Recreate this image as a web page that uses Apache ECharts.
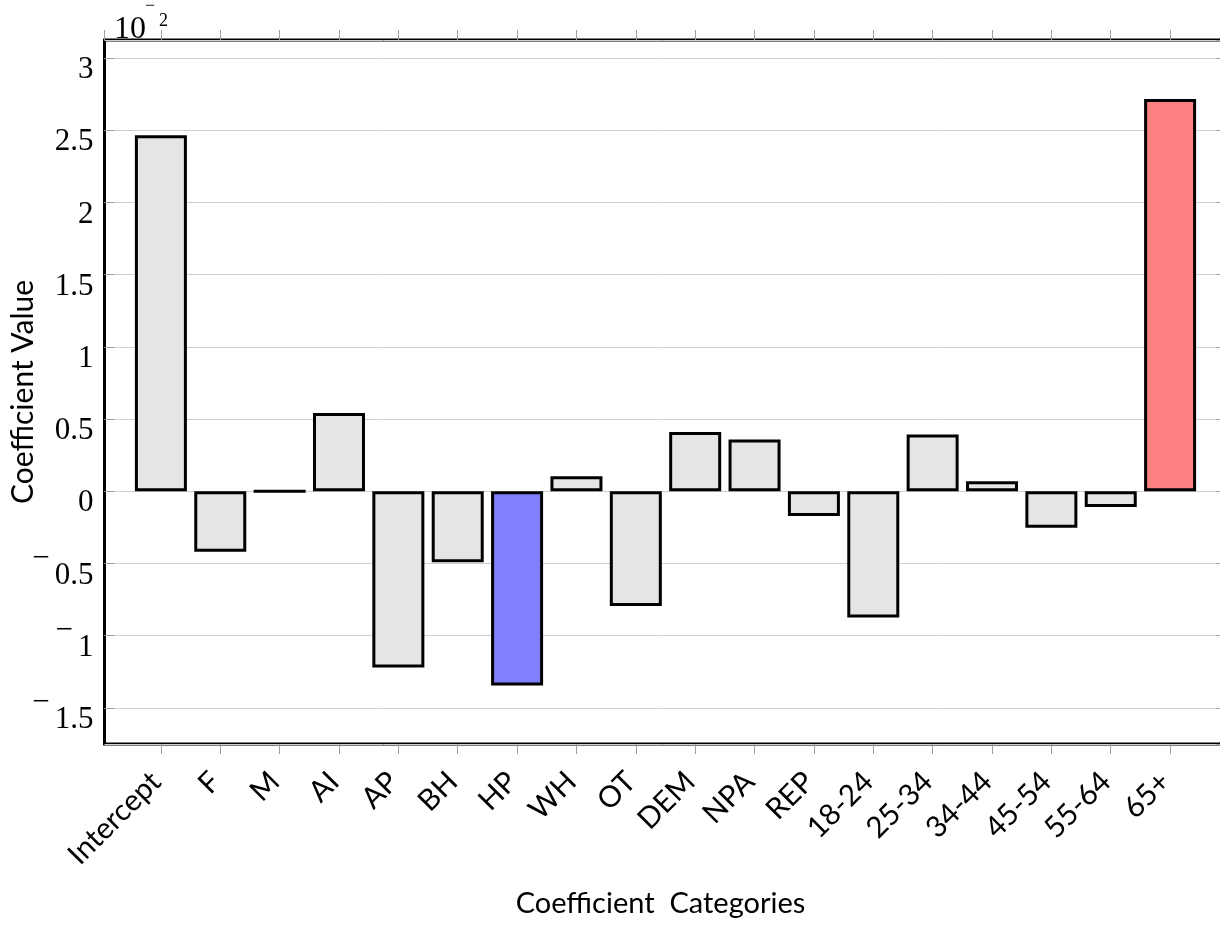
<!DOCTYPE html>
<html>
<head>
<meta charset="utf-8">
<title>Coefficient Values</title>
<script src="https://cdn.jsdelivr.net/npm/echarts@6/dist/echarts.min.js"></script>
<style>
  html, body { margin: 0; padding: 0; background: #fff; }
  #chart { width: 1220px; height: 925px; }
</style>
</head>
<body>
<div id="chart"></div>
<script>
// Regression coefficients (scaled by 10^-2)
const categories = ['Intercept', 'F', 'M', 'AI', 'AP', 'BH', 'HP', 'WH', 'OT', 'DEM', 'NPA', 'REP',
  '18-24', '25-34', '34-44', '45-54', '55-64', '65+'];
const values = [2.466, -0.419, 0, 0.542, -1.221, -0.491, -1.345, 0.104, -0.795, 0.411, 0.358, -0.172,
  -0.874, 0.393, 0.07, -0.253, -0.108, 2.716];
const yTicks = [-1.5, -1, -0.5, 0, 0.5, 1, 1.5, 2, 2.5, 3];
const lowestCategory = 'HP';
const highestCategory = '65+';

const SERIF = '"Liberation Serif", "DejaVu Serif", serif';
const SANS = 'Lato, "Open Sans", sans-serif';

function barColor(name) {
  if (name === lowestCategory) return '#8080ff';
  if (name === highestCategory) return '#ff8080';
  return '#e5e5e5';
}

const barData = categories.map((name, i) => ({
  value: [i, values[i]],
  itemStyle: { color: barColor(name) }
}));

// Tick labels: number sits a little below its grid line, minus sign raised to its left
function yLabel(v) {
  const r = Math.round(v * 100) / 100;
  if (!yTicks.some(t => Math.abs(t - r) < 1e-6)) return '';
  const txt = String(Math.abs(r));
  return r < 0 ? '{m|\u2212}{n|' + txt + '}' : '{n|' + txt + '}';
}

function xLabel(v) {
  return Number.isInteger(v) && categories[v] !== undefined ? categories[v] : '';
}

const tickStyle = { color: '#a0a0a0', width: 1 };
const expStyle = (size) => ({ fontFamily: SERIF, fontSize: size, fontWeight: 'normal', lineHeight: size, color: '#000' });

const chart = echarts.init(document.getElementById('chart'), null, { renderer: 'canvas' });

chart.setOption({
  animation: false,
  backgroundColor: '#fff',
  // axis multiplier 10^-2
  title: [
    { text: '10', left: 114, top: 13, padding: 0, textStyle: Object.assign(expStyle(32), { lineHeight: 34 }) },
    { text: '\u2212', left: 145, top: -3, padding: 0, textStyle: expStyle(18) },
    { text: '2', left: 159, top: 12, padding: 0, textStyle: expStyle(18) }
  ],
  grid: {
    left: 104.5,
    top: 40,
    right: -6.5,
    bottom: 181,
    outerBoundsMode: 'none',
    containLabel: false,
    show: true,
    borderColor: '#000',
    borderWidth: 3,
    backgroundColor: 'transparent'
  },
  xAxis: [
    {
      type: 'value',
      position: 'bottom',
      min: -0.95,
      max: 17.95,
      splitNumber: 19,
      name: 'Coefficient  Categories',
      nameLocation: 'middle',
      nameGap: 145,
      nameMoveOverlap: false,
      nameTextStyle: { fontFamily: SANS, fontSize: 29, color: '#000', padding: [0, 10, 0, 0] },
      axisLine: { show: false, onZero: false },
      axisTick: { show: true, inside: false, length: 10, lineStyle: tickStyle },
      splitLine: { show: false },
      axisLabel: {
        rotate: 45,
        margin: 28,
        padding: [16, 7, 0, 0],
        fontFamily: SANS,
        fontSize: 29.5,
        color: '#000',
        showMinLabel: false,
        showMaxLabel: false,
        hideOverlap: false,
        formatter: xLabel
      }
    },
    {
      type: 'value',
      position: 'top',
      min: -0.95,
      max: 17.95,
      splitNumber: 19,
      axisLine: { show: false, onZero: false },
      axisTick: { show: true, inside: false, length: 10, lineStyle: tickStyle },
      splitLine: { show: false },
      axisLabel: { show: false }
    }
  ],
  yAxis: [
    {
      type: 'value',
      position: 'left',
      min: -1.75,
      max: 3.125,
      splitNumber: 10,
      name: 'Coefficient Value',
      nameLocation: 'middle',
      nameGap: 66,
      nameRotate: 90,
      nameMoveOverlap: false,
      nameTextStyle: { fontFamily: SANS, fontSize: 30, color: '#000' },
      axisLine: { show: false, onZero: false },
      axisTick: { show: true, inside: true, length: 10, lineStyle: tickStyle },
      splitLine: { show: true, lineStyle: { color: '#cfcfcf', width: 1 } },
      axisLabel: {
        margin: 11,
        showMinLabel: false,
        showMaxLabel: false,
        formatter: yLabel,
        rich: {
          n: { fontFamily: SERIF, fontSize: 31, lineHeight: 32, padding: [24, 0, 0, 0], color: '#000' },
          m: { fontFamily: SERIF, fontSize: 31, lineHeight: 14, padding: [0, 5, 10, 0], color: '#000' }
        }
      }
    },
    {
      type: 'value',
      position: 'right',
      min: -1.75,
      max: 3.125,
      splitNumber: 10,
      axisLine: { show: false, onZero: false },
      axisTick: { show: true, inside: true, length: 10, lineStyle: tickStyle },
      splitLine: { show: false },
      axisLabel: { show: false }
    }
  ],
  series: [
    {
      type: 'bar',
      xAxisIndex: 0,
      yAxisIndex: 0,
      barWidth: 52,
      data: barData,
      itemStyle: { borderColor: '#000', borderWidth: 3 },
      emphasis: { disabled: true }
    }
  ]
});
</script>
</body>
</html>
